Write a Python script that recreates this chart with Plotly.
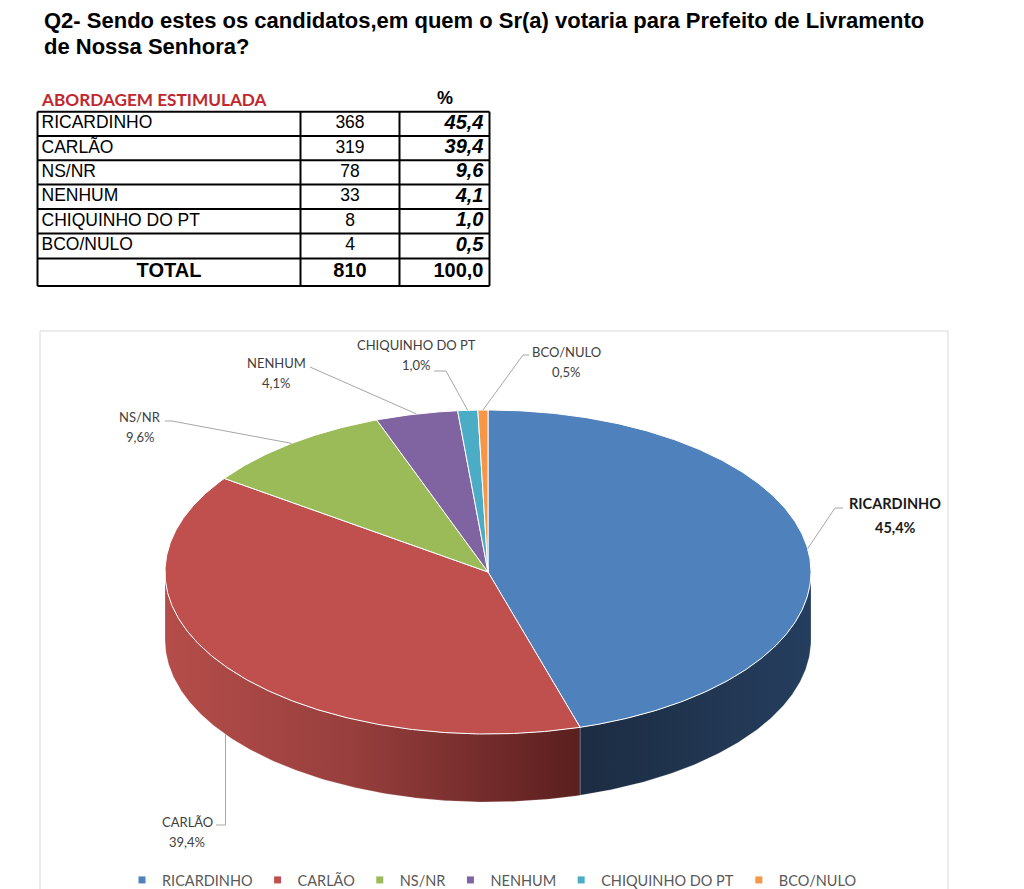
import numpy as np
import plotly.graph_objects as go

# ---------------- data ----------------
title_lines = ["Q2- Sendo estes os candidatos,em quem o Sr(a) votaria para Prefeito de Livramento",
               "de Nossa Senhora?"]
table_heading = "ABORDAGEM ESTIMULADA"
percent_heading = "%"
categories = ["RICARDINHO", "CARLÃO", "NS/NR", "NENHUM", "CHIQUINHO DO PT", "BCO/NULO"]
counts = [368, 319, 78, 33, 8, 4]
percents = [45.4, 39.4, 9.6, 4.1, 1.0, 0.5]
total_label = "TOTAL"
total_count = 810
total_percent = 100.0

# ---------------- styles / layout ----------------
top_colors = ["#4F81BD", "#C0504D", "#9BBB59", "#8064A2", "#4BACC6", "#F79646"]
side_scales = [
    [[0, "#1C2C42"], [1, "#253E5E"]],
    [[0, "#B54D4A"], [0.45, "#973F3D"], [1, "#5A1F1E"]],
    [[0, "#7A9446"], [1, "#5C7034"]],
    [[0, "#654F80"], [1, "#4B3B60"]],
    [[0, "#3B889C"], [1, "#2C6675"]],
    [[0, "#C47737"], [1, "#935A29"]],
]
W, H = 1024, 889
CX, CY, RX, RY, DEPTH = 488, 572, 323, 162, 68
LBL_FAM = "Lato, Noto Sans, sans-serif"
ARIAL = "Liberation Sans, Arial, sans-serif"
LINE_GAP = 19.5
# label anchor (x centre, y of first line)
label_pos = {
    "RICARDINHO": (895, 503),
    "CARLÃO": (187, 822),
    "NS/NR": (140, 417),
    "NENHUM": (276, 363),
    "CHIQUINHO DO PT": (416, 345),
    "BCO/NULO": (566, 352),
}
leader_start = {
    "RICARDINHO": [(843, 508), (835, 508)],
    "CARLÃO": [(216, 825)],
    "NS/NR": [(165, 421), (172, 421)],
    "NENHUM": [(310, 367)],
    "CHIQUINHO DO PT": [(434, 371), (446, 371)],
    "BCO/NULO": [(529, 355), (523, 355)],
}
# table geometry (pixels)
TBL_X0, TBL_Y0 = 37.5, 111.7
col_widths = [263, 99, 90]
row_heights = [24.3, 24.3, 24.3, 24.5, 24.4, 25.0, 27.4]


def fmt(v):
    return f"{v:.1f}".replace(".", ",")


def pt(theta_deg, dy=0.0):
    t = np.radians(theta_deg)
    return CX + RX * np.sin(t), CY - RY * np.cos(t) + dy


def arc(a1, a2, dy=0.0):
    n = max(int(abs(a2 - a1) / 0.5), 2)
    th = np.linspace(a1, a2, n + 1)
    xs, ys = pt(th, dy)
    return list(xs), list(ys)


share = np.array(percents) / float(np.sum(percents)) * 360.0
ends = np.cumsum(share)
starts = ends - share

fig = go.Figure()

# chart frame
fig.add_shape(type="rect", x0=40, x1=948, y0=331, y1=900, xref="x", yref="y",
              line=dict(color="#D9D9D9", width=1), layer="below")

# pie sides (front half only: 90..270 degrees clockwise from top)
for i, cat in enumerate(categories):
    a1, a2 = max(starts[i], 90.0), min(ends[i], 270.0)
    if a2 <= a1:
        continue
    tx, ty = arc(a1, a2)
    bx, by = arc(a2, a1, DEPTH)
    fig.add_trace(go.Scatter(
        x=tx + bx + [tx[0]], y=ty + by + [ty[0]], mode="lines", fill="toself",
        line=dict(color="rgba(255,255,255,0.35)", width=0.6),
        fillgradient=dict(type="horizontal", colorscale=side_scales[i]),
        hoverinfo="skip", showlegend=False))

# pie top faces
for i, cat in enumerate(categories):
    ax, ay = arc(starts[i], ends[i])
    fig.add_trace(go.Scatter(
        x=[CX] + ax + [CX], y=[CY] + ay + [CY], mode="lines", fill="toself",
        fillcolor=top_colors[i], line=dict(color="white", width=1),
        hoverinfo="skip", showlegend=False))

# leader lines + labels
for i, cat in enumerate(categories):
    mid = (starts[i] + ends[i]) / 2.0
    on_side = 90 < mid < 270
    ex, ey = pt(mid, DEPTH if on_side else 0.0)
    pts = list(leader_start[cat])
    if cat == "CARLÃO":
        pts.append((float(ex), pts[-1][1]))
    pts.append((float(ex), float(ey)))
    fig.add_trace(go.Scatter(
        x=[p[0] for p in pts], y=[p[1] for p in pts], mode="lines",
        line=dict(color="#A6A6A6", width=1), hoverinfo="skip", showlegend=False))
    lx, ly = label_pos[cat]
    if i == 0:
        lines = [f"<b>{cat}</b>", f"<b>{fmt(percents[i])}%</b>"]
        font = dict(family=LBL_FAM, size=14.5, color="#1A1A1A")
        gap = 24
    else:
        lines = [cat, f"{fmt(percents[i])}%"]
        font = dict(family=LBL_FAM, size=13, color="#404040")
        gap = LINE_GAP
    for k, t in enumerate(lines):
        fig.add_annotation(x=lx, y=ly + k * gap, xref="x", yref="y", text=t, showarrow=False,
                           font=font, xanchor="center", yanchor="middle")

# legend entries
for i, cat in enumerate(categories):
    fig.add_trace(go.Scatter(
        x=[None], y=[None], mode="markers", name=cat,
        marker=dict(symbol="square", size=7, color=top_colors[i]), hoverinfo="skip"))

# ---------- table ----------
col_edges = TBL_X0 + np.concatenate([[0], np.cumsum(col_widths)])
row_edges = TBL_Y0 + np.concatenate([[0], np.cumsum(row_heights)])
row_mid = (row_edges[:-1] + row_edges[1:]) / 2.0
n_rows = len(categories) + 1

gx, gy = [], []
for yv in row_edges:
    gx += [col_edges[0], col_edges[-1], None]
    gy += [yv, yv, None]
for xv in col_edges:
    gx += [xv, xv, None]
    gy += [row_edges[0], row_edges[-1], None]
fig.add_trace(go.Scatter(x=gx, y=gy, mode="lines", line=dict(color="black", width=2),
                         hoverinfo="skip", showlegend=False))

c1_text = categories + [f"<b>{total_label}</b>"]
c1_x = [col_edges[0] + 4] * len(categories) + [(col_edges[0] + col_edges[1]) / 2]
c1_pos = ["middle right"] * len(categories) + ["middle center"]
c_sizes = [17.5] * len(categories) + [20]
fig.add_trace(go.Scatter(x=c1_x, y=list(row_mid), mode="text", text=c1_text, textposition=c1_pos,
                         textfont=dict(family=ARIAL, size=c_sizes, color="black"),
                         hoverinfo="skip", showlegend=False))
c2_text = [str(c) for c in counts] + [f"<b>{total_count}</b>"]
fig.add_trace(go.Scatter(x=[(col_edges[1] + col_edges[2]) / 2] * n_rows, y=list(row_mid), mode="text",
                         text=c2_text, textposition="middle center",
                         textfont=dict(family=ARIAL, size=c_sizes, color="black"),
                         hoverinfo="skip", showlegend=False))
c3_text = [f"<b><i>{fmt(p)}</i></b>" for p in percents] + [f"<b>{fmt(total_percent)}</b>"]
fig.add_trace(go.Scatter(x=[col_edges[3] - 6] * n_rows, y=list(row_mid), mode="text",
                         text=c3_text, textposition="middle left",
                         textfont=dict(family=ARIAL, size=20, color="black"),
                         hoverinfo="skip", showlegend=False))

# title and table headings
for k, line in enumerate(title_lines):
    fig.add_annotation(x=42, y=20 + 26 * k, xref="x", yref="y", text=f"<b>{line}</b>", showarrow=False,
                       xanchor="left", yanchor="middle",
                       font=dict(family=ARIAL, size=22, color="black"))
fig.add_annotation(x=39, y=99, xref="x", yref="y", text=f"<b>{table_heading}</b>", showarrow=False,
                   xanchor="left", yanchor="middle",
                   font=dict(family=LBL_FAM, size=17.2, color="#C0282D"))
fig.add_annotation(x=445, y=98, xref="x", yref="y", text=f"<b>{percent_heading}</b>", showarrow=False,
                   xanchor="center", yanchor="middle",
                   font=dict(family=ARIAL, size=18, color="black"))

fig.update_layout(
    width=W, height=H, margin=dict(l=0, r=0, t=0, b=0, autoexpand=False),
    paper_bgcolor="white", plot_bgcolor="white",
    xaxis=dict(range=[0, W], visible=False, fixedrange=True, domain=[0, 1]),
    yaxis=dict(range=[H, 0], visible=False, fixedrange=True, domain=[0, 1]),
    showlegend=True,
    legend=dict(orientation="h", x=122 / W, xanchor="left", y=1 - 880 / H, yanchor="middle",
                font=dict(family=LBL_FAM, size=14.5, color="#595959"),
                bgcolor="rgba(0,0,0,0)"),
    hovermode=False,
)

post = (
    "var gd=document.getElementById('{plot_id}');"
    "gd.style.position='fixed';gd.style.top='0px';gd.style.left='0px';"
    "document.body.style.margin='0';document.body.style.overflow='hidden';"
    "document.documentElement.style.overflow='hidden';"
    "document.documentElement.style.height='889px';document.body.style.height='889px';"
)
fig.write_html("out.html", config={"displayModeBar": False}, post_script=post)
